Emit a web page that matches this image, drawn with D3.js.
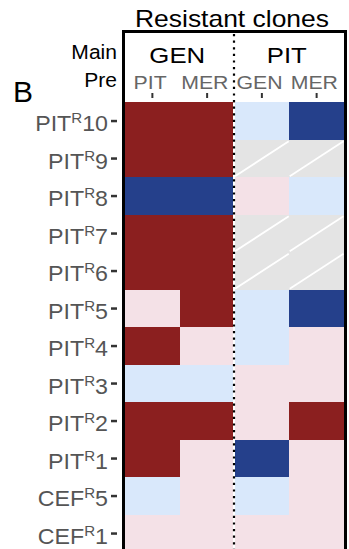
<!DOCTYPE html>
<html>
<head>
<meta charset="utf-8">
<script src="https://cdn.jsdelivr.net/npm/d3@7"></script>
<style>
  body { margin: 0; background: #fff; }
  svg { display: block; }
  text { font-family: "Liberation Sans", Arial, Helvetica, sans-serif; }
</style>
</head>
<body>
<script>
// Resistant clones (rows, top to bottom); "^" marks the superscript part.
const clones = ["PIT^R10", "PIT^R9", "PIT^R8", "PIT^R7", "PIT^R6", "PIT^R5",
                "PIT^R4", "PIT^R3", "PIT^R2", "PIT^R1", "CEF^R5", "CEF^R1"];

// Column headers: main drug and pre-exposure drug for each column.
const mainDrugs = ["GEN", "PIT"];
const mainOfColumn = ["GEN", "GEN", "PIT", "PIT"];
const preDrugs = ["PIT", "MER", "GEN", "MER"];

// Response level per clone (-2 strong decrease, -1 decrease, 1 increase, 2 strong increase, null = not tested).
const genPit = [2, 2, -2, 2, 2, 1, 2, -1, 2, 2, -1, 1];
const genMer = [2, 2, -2, 2, 2, 2, 1, -1, 2, 1, 1, 1];
const pitGen = [-1, null, 1, null, null, -1, -1, 1, 1, -2, -1, 1];
const pitMer = [-2, null, -1, null, null, -2, 1, 1, 2, 1, 1, 1];

const levelCodes = [-2, -1, 1, 2];
const levelColors = ["#25408b", "#d9e8fb", "#f4e1e7", "#8b1f1f"];
const naColor = "#e4e4e4";

const columns = [genPit, genMer, pitGen, pitMer];

const W = 349, H = 549;
const TEXT_SX = 1.12; // horizontal stretch of lettering

const svg = d3.select("body").append("svg")
  .attr("width", W).attr("height", H);

const x = d3.scaleBand().domain(d3.range(columns.length)).range([125, 344]);
const y = d3.scaleBand().domain(clones).range([102.3, 552.3]);
const color = d3.scaleOrdinal().domain(levelCodes).range(levelColors);

function stretchedText(g, tx, ty, str, size, fill, anchor, sx) {
  return g.append("text")
    .attr("transform", `translate(${tx},${ty}) scale(${sx || TEXT_SX},1)`)
    .attr("text-anchor", anchor || "middle")
    .attr("font-size", size)
    .attr("fill", fill || "#000")
    .text(str);
}

// Heatmap cells
const cells = [];
columns.forEach((vals, ci) => vals.forEach((v, ri) => cells.push({ col: ci, clone: clones[ri], v })));

const cellG = svg.append("g").attr("shape-rendering", "crispEdges");
cellG.selectAll("rect").data(cells).join("rect")
  .attr("x", d => x(d.col))
  .attr("y", d => y(d.clone))
  .attr("width", x.bandwidth())
  .attr("height", y.bandwidth())
  .attr("fill", d => d.v == null ? naColor : color(d.v));

// Hatch line across untested cells
svg.append("g").selectAll("line").data(cells.filter(d => d.v == null)).join("line")
  .attr("x1", d => x(d.col) + 0.5)
  .attr("y1", d => y(d.clone) + y.bandwidth() - 1)
  .attr("x2", d => x(d.col) + x.bandwidth() - 0.5)
  .attr("y2", d => y(d.clone) + 1.5)
  .attr("stroke", "#fff")
  .attr("stroke-width", 1.8);

// Divider between main drugs
const divX = x(2) - 0.5;
svg.append("line")
  .attr("x1", divX).attr("x2", divX)
  .attr("y1", y.range()[0]).attr("y2", H + 10)
  .attr("stroke", "#fff").attr("stroke-width", 2);
svg.append("line")
  .attr("x1", divX).attr("x2", divX)
  .attr("y1", 34).attr("y2", H + 10)
  .attr("stroke", "#000").attr("stroke-width", 2.2)
  .attr("stroke-dasharray", "2.2,4.4");

// Frame
svg.append("rect")
  .attr("x", 123.5).attr("y", 31.5)
  .attr("width", 222).attr("height", H)
  .attr("fill", "none").attr("stroke", "#000").attr("stroke-width", 3);

// Title
stretchedText(svg, 232, 26.7, "Resistant clones", 23, "#000", "middle", 1.15);

// Panel letter
stretchedText(svg, 13, 101.7, "B", 30, "#000", "start", 1.0);

// Header row labels
stretchedText(svg, 117, 59.3, "Main", 19.5, "#000", "end", 1.08);
stretchedText(svg, 117, 86.7, "Pre", 19.5, "#000", "end", 1.08);

// Main drug labels centred over their columns
mainDrugs.forEach(m => {
  const idx = d3.range(columns.length).filter(i => mainOfColumn[i] === m);
  const cx = (x(idx[0]) + x(idx[idx.length - 1]) + x.bandwidth()) / 2;
  stretchedText(svg, cx - 2.5, 62.5, m, 23, "#000", "middle", 1.12);
});

// Pre-exposure axis
const topAxis = svg.append("g")
  .attr("transform", "translate(0,98)")
  .call(d3.axisTop(x).tickSize(5).tickPadding(4).tickFormat(i => preDrugs[i]));
topAxis.select(".domain").remove();
topAxis.selectAll(".tick line").attr("stroke", "#333").attr("stroke-width", 2);
topAxis.selectAll(".tick text")
  .attr("font-size", 18.5)
  .attr("font-family", null)
  .attr("fill", "#666")
  .attr("transform", `scale(1.15,1)`)
  .attr("x", -2);

// Clone axis
const leftAxis = svg.append("g")
  .attr("transform", "translate(117,0)")
  .call(d3.axisLeft(y).tickSize(6).tickPadding(3));
leftAxis.select(".domain").remove();
leftAxis.selectAll(".tick line").attr("stroke", "#333").attr("stroke-width", 2.5);
const rowSx = 1.08;
leftAxis.selectAll(".tick text")
  .attr("font-size", 21.5)
  .attr("font-family", null)
  .attr("fill", "#555")
  .attr("x", -9 / rowSx)
  .attr("dy", null)
  .attr("y", 10)
  .attr("transform", `scale(${rowSx},1)`)
  .each(function (d) {
    const [pre, post] = d.split("^");
    const t = d3.select(this).text(null);
    t.append("tspan").text(pre);
    t.append("tspan").attr("font-size", 14).attr("dy", -8).text(post[0]);
    t.append("tspan").attr("dy", 8).text(post.slice(1));
  });
</script>
</body>
</html>
